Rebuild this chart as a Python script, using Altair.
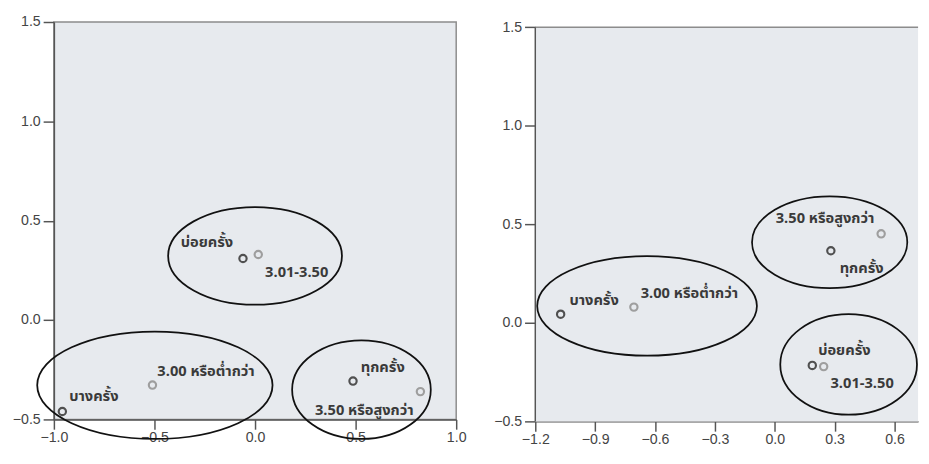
import altair as alt
import pandas as pd

# ---------------- data ----------------
left_labels = ["บางครั้ง", "3.00 หรือต่ำกว่า", "บ่อยครั้ง", "3.01-3.50", "ทุกครั้ง", "3.50 หรือสูงกว่า"]
left_x = [-0.958, -0.51, -0.06, 0.016, 0.487, 0.822]
left_y = [-0.46, -0.327, 0.31, 0.33, -0.307, -0.36]
left_kind = ["freq", "gpa", "freq", "gpa", "freq", "gpa"]

right_labels = ["บางครั้ง", "3.00 หรือต่ำกว่า", "3.50 หรือสูงกว่า", "ทุกครั้ง", "บ่อยครั้ง", "3.01-3.50"]
right_x = [-1.073, -0.706, 0.533, 0.281, 0.188, 0.245]
right_y = [0.044, 0.08, 0.452, 0.366, -0.216, -0.222]
right_kind = ["freq", "gpa", "gpa", "freq", "freq", "gpa"]

# ellipse (group outline) centres in data units
left_ell_x = [0.0, -0.498, 0.529]
left_ell_y = [0.323, -0.328, -0.35]
right_ell_x = [-0.64, 0.275, 0.37]
right_ell_y = [0.086, 0.409, -0.211]

y_ticks = [-0.5, 0.0, 0.5, 1.0, 1.5]
left_x_ticks = [-1.0, -0.5, 0.0, 0.5, 1.0]
right_x_ticks = [-1.2, -0.9, -0.6, -0.3, 0.0, 0.3, 0.6]

# ---------------- styling (pixel offsets / sizes) ----------------
left_label_style = [("left", 7, -16), ("left", 5, -14), ("right", -10, -17),
                    ("left", 7, 18), ("left", 8, -14), ("right", -7, 19)]
right_label_style = [("left", 9, -14), ("left", 7, -14), ("right", -7, -16),
                     ("left", 9, 18), ("left", 6, -16), ("left", 7, 17)]
left_ell_radii = [(89, 50), (120.5, 55), (71, 50.5)]
right_ell_radii = [(112.5, 51), (79.5, 47), (70, 51.5)]

BG = "#E7EAEE"
FRAME = "#8c8c8c"
AXIS = "#555555"
THAI_FONT = "Noto Sans Thai, Tahoma, DejaVu Sans, sans-serif"


def ellipse_path(rx, ry):
    return (f"M{-rx},0A{rx},{ry} 0 1,0 {rx},0"
            f"A{rx},{ry} 0 1,0 {-rx},0Z")


def panel(labels, xs, ys, kinds, ex, ey, radii, lstyle, xdom, ydom, xticks, ydomain_line):
    df = pd.DataFrame({"label": labels, "x": xs, "y": ys, "kind": kinds})
    dfe = pd.DataFrame({"x": ex, "y": ey,
                        "path": [ellipse_path(rx, ry) for rx, ry in radii]})
    xenc = alt.X("x:Q", scale=alt.Scale(domain=xdom, nice=False, zero=False),
                 axis=alt.Axis(values=xticks, format=".1f", title=None, grid=False,
                               labelFlush=False))
    yenc = alt.Y("y:Q", scale=alt.Scale(domain=ydom, nice=False, zero=False),
                 axis=alt.Axis(values=y_ticks, format=".1f", title=None, grid=False,
                               domain=ydomain_line, minExtent=38, maxExtent=38,
                               labelFlush=False))
    pts = alt.Chart(df).mark_point(filled=False, size=56, strokeWidth=2.2, opacity=1).encode(
        x=xenc, y=yenc,
        color=alt.Color("kind:N", scale=alt.Scale(domain=["freq", "gpa"],
                                                  range=["#505050", "#9e9e9e"]), legend=None),
    )
    ells = alt.Chart(dfe).mark_point(filled=False, size=4, strokeWidth=1.8,
                                     color="#111111", opacity=1).encode(
        x=xenc, y=yenc, shape=alt.Shape("path:N", scale=None)
    )
    layers = [ells, pts]
    for lab, (al, dx, dy) in zip(labels, lstyle):
        layers.append(
            alt.Chart(df).transform_filter(
                alt.FieldEqualPredicate(field="label", equal=lab)
            ).mark_text(align=al, baseline="middle", dx=dx, dy=dy, fontSize=15,
                        fontWeight="bold", font=THAI_FONT, color="#3a3a3a").encode(
                x=xenc, y=yenc, text="label:N")
        )
    return layers


l_layers = panel(left_labels, left_x, left_y, left_kind, left_ell_x, left_ell_y,
                 left_ell_radii, left_label_style, [-1.0, 1.0], [-0.5, 1.5], left_x_ticks, True)
left = alt.layer(*l_layers).properties(
    width=412, height=407,
    view=alt.ViewBackground(fill=BG, stroke=FRAME, strokeWidth=1.5),
)

# right panel: its frame sits a little lower than the left one, so the
# y scale reaches slightly above 1.5 and the plot area is drawn as a rect
R_XDOM = [-1.2, 0.718]
R_YDOM = [-0.5, 1.527]
frame_df = pd.DataFrame({"x0": [R_XDOM[0]], "x1": [R_XDOM[1]], "y0": [-0.5], "y1": [1.5]})
rx_scale = alt.Scale(domain=R_XDOM, nice=False, zero=False)
ry_scale = alt.Scale(domain=R_YDOM, nice=False, zero=False)
bg_rect = alt.Chart(frame_df).mark_rect(color=BG).encode(
    x=alt.X("x0:Q", scale=rx_scale), x2="x1:Q",
    y=alt.Y("y0:Q", scale=ry_scale), y2="y1:Q",
)
top_rule = alt.Chart(frame_df).mark_rule(color=FRAME, strokeWidth=1.5).encode(
    x=alt.X("x0:Q", scale=rx_scale), x2="x1:Q",
    y=alt.Y("y1:Q", scale=ry_scale),
)
left_rule = alt.Chart(frame_df).mark_rule(color=AXIS, strokeWidth=1.5).encode(
    x=alt.X("x0:Q", scale=rx_scale),
    y=alt.Y("y0:Q", scale=ry_scale), y2="y1:Q",
)
r_layers = panel(right_labels, right_x, right_y, right_kind, right_ell_x, right_ell_y,
                 right_ell_radii, right_label_style, R_XDOM, R_YDOM, right_x_ticks, False)
right = alt.layer(bg_rect, top_rule, left_rule, *r_layers).properties(
    width=392, height=409,
    view=alt.ViewBackground(stroke="transparent"),
)

chart = alt.hconcat(left, right, spacing=26).properties(
    padding={"left": 3, "top": 0, "right": 0, "bottom": 0},
    background="white",
).configure_axis(
    labelFont="Liberation Sans", labelFontSize=14.5, labelColor="#444444",
    tickWidth=1.5, tickColor=AXIS, domainColor=AXIS, domainWidth=1.5,
).configure_axisX(
    tickSize=10, labelPadding=2,
).configure_axisY(
    tickSize=11, labelPadding=3,
)

chart.save("out.html", embed_options={"renderer": "svg", "actions": False})
